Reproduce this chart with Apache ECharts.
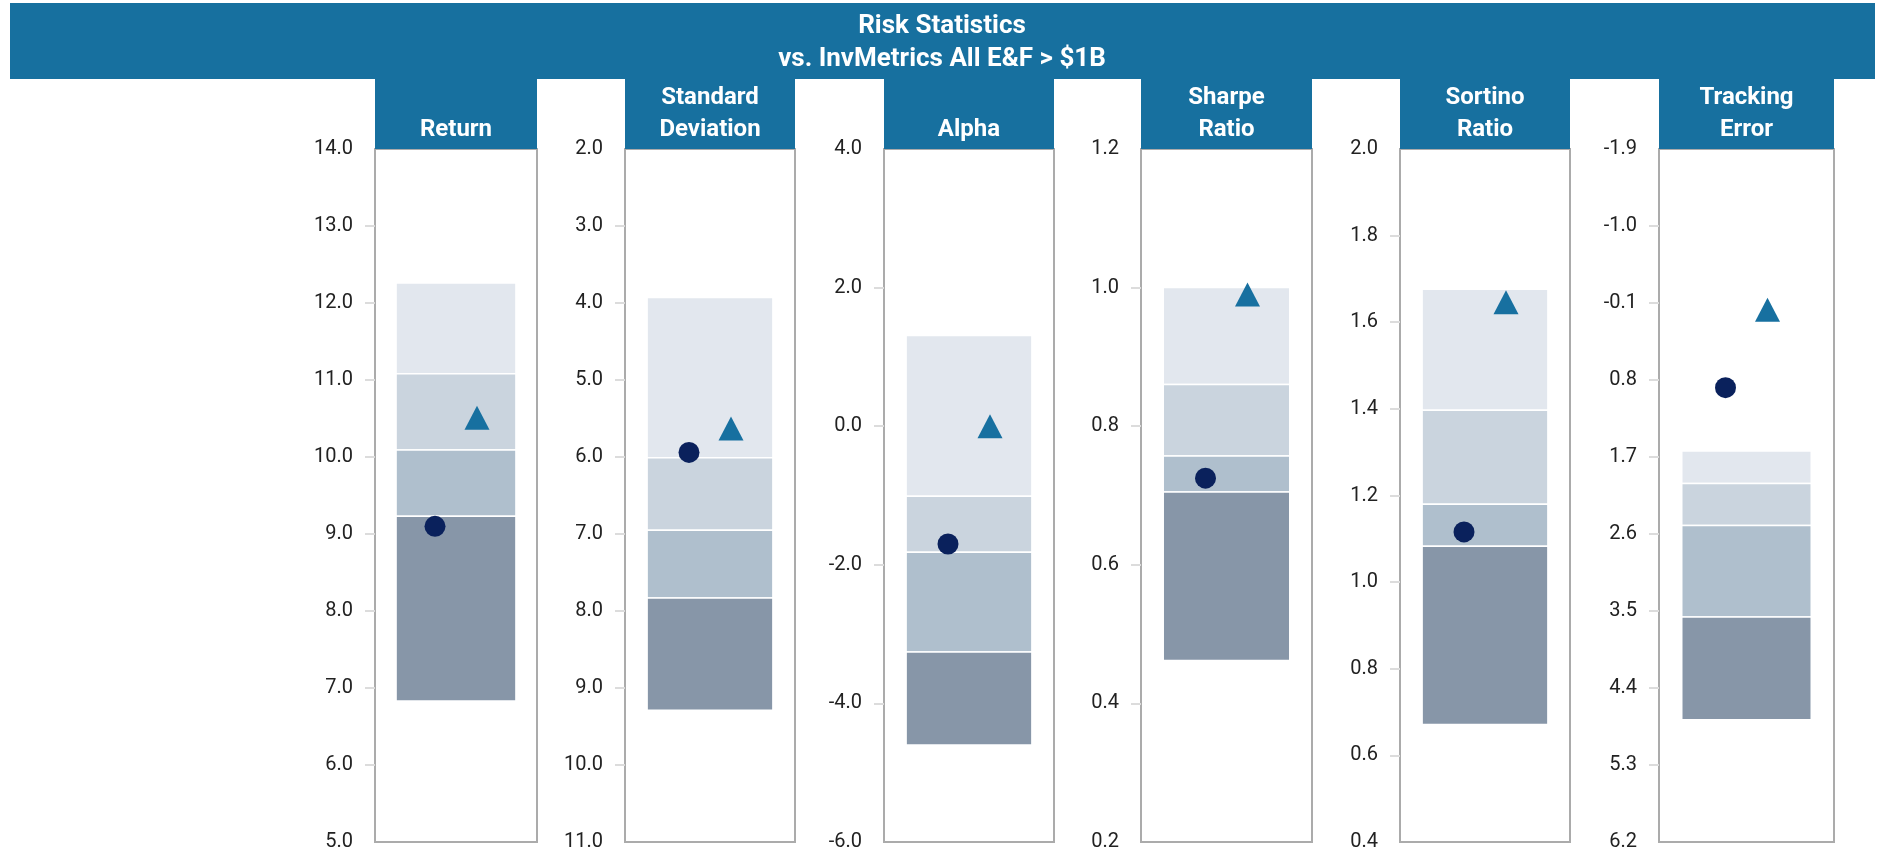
<!DOCTYPE html>
<html>
<head>
<meta charset="utf-8">
<script src="https://cdn.jsdelivr.net/npm/echarts@6/dist/echarts.min.js"></script>
<style>
html,body{margin:0;padding:0;background:#fff;}
#chart{width:1877px;height:852px;}
</style>
</head>
<body>
<div id="chart"></div>
<script>
// ---- data ----
const titleLines = ['Risk Statistics', 'vs. InvMetrics All E&F > $1B'];
const categories = ['Return', 'Standard\nDeviation', 'Alpha', 'Sharpe\nRatio', 'Sortino\nRatio', 'Tracking\nError'];
// percentile boundaries of the peer universe (5th = best, 95th = worst)
const pct5  = [12.26, 3.93,  1.31, 1.00,  1.676, 1.63];
const pct25 = [11.08, 6.01, -1.01, 0.86,  1.397, 2.01];
const pct50 = [10.09, 6.95, -1.82, 0.757, 1.180, 2.50];
const pct75 = [ 9.23, 7.83, -3.26, 0.705, 1.083, 3.57];
const pct95 = [ 6.83, 9.29, -4.60, 0.462, 0.671, 4.77];
const portfolio = [9.10, 5.94, -1.70, 0.725, 1.116, 0.89];
const benchmark = [10.51, 5.63, 0.00, 0.99, 1.646, -0.02];
// tick labels of each panel
const returnTicks  = [5, 6, 7, 8, 9, 10, 11, 12, 13, 14];
const sdTicks      = [2, 3, 4, 5, 6, 7, 8, 9, 10, 11];
const alphaTicks   = [-6, -4, -2, 0, 2, 4];
const sharpeTicks  = [0.2, 0.4, 0.6, 0.8, 1.0, 1.2];
const sortinoTicks = [0.4, 0.6, 0.8, 1.0, 1.2, 1.4, 1.6, 1.8, 2.0];
const teTicks      = [-1.9, -1.0, -0.1, 0.8, 1.7, 2.6, 3.5, 4.4, 5.3, 6.2];
const panelTicks = [returnTicks, sdTicks, alphaTicks, sharpeTicks, sortinoTicks, teTicks];
const inverted = [false, true, false, false, false, true];

// ---- layout & style ----
const boxLeft  = [375, 625, 884, 1141, 1400, 1659];
const boxWidth = [162, 170, 170, 171, 170, 175];
const gridTop = 149, gridHeight = 693;
const BLUE = '#17709f';
const bandColors = ['#e2e7ee', '#cad4de', '#afbfcd', '#8796a8'];
const FONT = 'Roboto, "Noto Sans", sans-serif';

const chart = echarts.init(document.getElementById('chart'));

const grids = [], xAxes = [], yAxes = [], series = [], graphics = [];

graphics.push({type:'rect', shape:{x:10, y:3, width:1865, height:76}, style:{fill:BLUE}, silent:true});
graphics.push({type:'text', style:{text:titleLines.join('\n'), x:942, y:43, align:'center', verticalAlign:'middle',
  font:'bold 26px ' + FONT, lineHeight:33, fill:'#fff'}, silent:true});

categories.forEach((cat, i) => {
  const ticks = panelTicks[i];
  grids.push({left:boxLeft[i], top:gridTop, width:boxWidth[i], height:gridHeight, show:true,
    borderColor:'#ababab', borderWidth:2, backgroundColor:'#fff', containLabel:false});
  xAxes.push({gridIndex:i, type:'category', data:[cat], show:false});
  yAxes.push({gridIndex:i, type:'value', min:ticks[0], max:ticks[ticks.length-1], inverse:inverted[i],
    axisLine:{show:false}, splitLine:{show:false},
    axisTick:{show:true, length:10, lineStyle:{color:'#dcdcdc', width:2}, customValues:ticks.slice(1, -1)},
    axisLabel:{customValues:ticks, formatter:v => Number(v).toFixed(1), margin:22, fontSize:20, color:'#222', fontFamily:FONT}});

  graphics.push({type:'rect', shape:{x:boxLeft[i], y:78, width:boxWidth[i], height:71}, style:{fill:BLUE}, silent:true});
  graphics.push({type:'text', style:{text:cat, x:boxLeft[i] + boxWidth[i]/2, y:146, align:'center', verticalAlign:'bottom',
    font:'bold 24px ' + FONT, lineHeight:32, fill:'#fff'}, silent:true});

  const bounds = [pct5[i], pct25[i], pct50[i], pct75[i], pct95[i]];
  const bands = [];
  for (let k = 0; k < 4; k++) bands.push([0, bounds[k], bounds[k+1], k]);
  series.push({type:'custom', xAxisIndex:i, yAxisIndex:i, data:bands, z:2,
    renderItem:(params, api) => {
      const a = api.coord([api.value(0), api.value(1)]);
      const b = api.coord([api.value(0), api.value(2)]);
      const w = api.size([1, 0])[0] * 0.74;
      return {type:'rect', shape:{x:a[0] - w/2, y:Math.min(a[1], b[1]), width:w, height:Math.abs(b[1] - a[1])},
        style:{fill:bandColors[api.value(3)], stroke:'#fff', lineWidth:1.5}};
    }});
  series.push({type:'scatter', xAxisIndex:i, yAxisIndex:i, data:[[0, portfolio[i]]], symbol:'circle', symbolSize:21,
    symbolOffset:[-21, 0], itemStyle:{color:'#0a215c', opacity:1}, z:5});
  series.push({type:'scatter', xAxisIndex:i, yAxisIndex:i, data:[[0, benchmark[i]]], symbol:'triangle', symbolSize:[25, 24],
    symbolOffset:[21, 0], itemStyle:{color:'#1770a0', opacity:1}, z:5});
});

chart.setOption({
  animation:false,
  backgroundColor:'#fff',
  grid:grids, xAxis:xAxes, yAxis:yAxes, series:series,
  graphic:graphics
});
</script>
</body>
</html>
